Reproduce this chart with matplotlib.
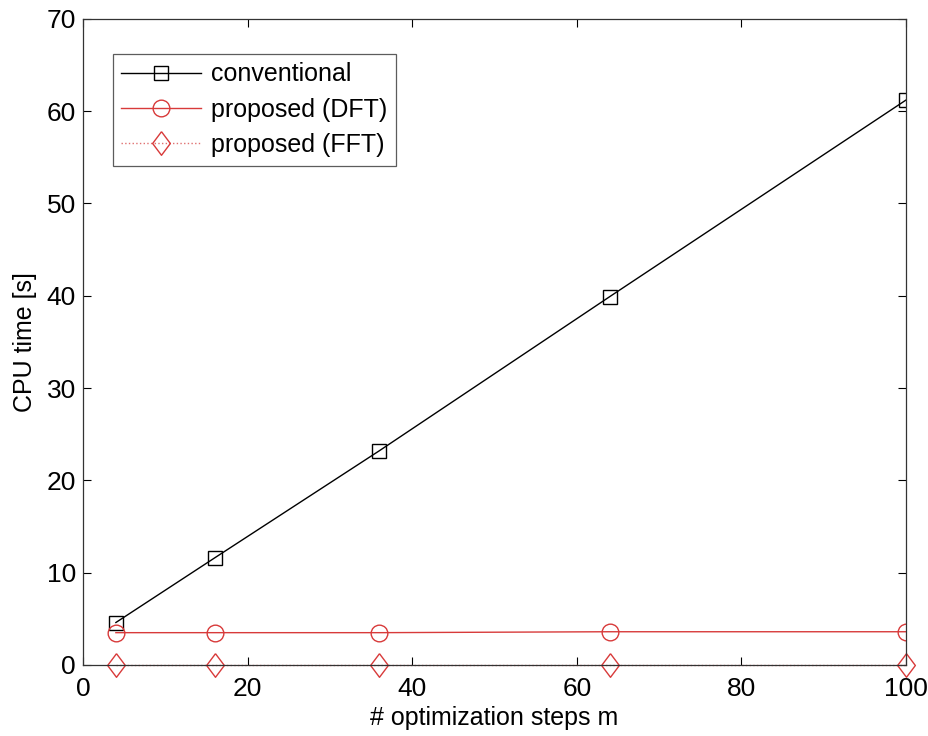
import matplotlib.pyplot as plt

plt.rcParams['font.family'] = ['Liberation Sans', 'DejaVu Sans']

steps = [4, 16, 36, 64, 100]
conventional = [4.6, 11.6, 23.2, 39.9, 61.2]
proposed_dft = [3.5, 3.5, 3.5, 3.6, 3.6]
proposed_fft = [0.05, 0.05, 0.05, 0.05, 0.05]

# rombo un poco mas ancho que el 'd' de matplotlib
rombo = [(0, 1), (0.75, 0), (0, -1), (-0.75, 0), (0, 1)]

fig = plt.figure(figsize=(9.29, 7.36), dpi=100)
ax = fig.add_axes([0.0893, 0.0965, 0.886, 0.878])

ax.plot(steps, conventional, color='black', lw=1.0, marker='s', ms=10,
        mfc='none', mec='black', mew=1.0, label='conventional')
ax.plot(steps, proposed_dft, color='#d83a3a', lw=1.0, marker='o', ms=12,
        mfc='none', mec='#d83a3a', mew=1.0, label='proposed (DFT)')
ax.plot(steps, proposed_fft, color='#e07070', lw=1.0, ls=':', marker=rombo, ms=17,
        mfc='none', mec='#d83a3a', mew=1.0, label='proposed (FFT)', clip_on=False)

ax.set_xlim(0, 100)
ax.set_ylim(0, 70)
ax.set_xticks(range(0, 101, 20))
ax.set_yticks(range(0, 71, 10))
ax.tick_params(direction='in', length=6, width=0.8, labelsize=19,
               top=True, right=True)
ax.tick_params(axis='x', pad=9)
ax.tick_params(axis='y', pad=5)
for s in ax.spines.values():
    s.set_linewidth(0.9)
    s.set_color('#333333')

ax.set_xlabel('# optimization steps m', fontsize=18, labelpad=3)
ax.set_ylabel('CPU time [s]', fontsize=18, labelpad=7)

leg = ax.legend(loc='upper left', bbox_to_anchor=(0.036, 0.946), fontsize=18,
                frameon=True, fancybox=False, edgecolor='#333333',
                handlelength=3.2, borderpad=0.35, labelspacing=0.45,
                handletextpad=0.4, borderaxespad=0)
leg.get_frame().set_linewidth(0.9)

plt.savefig('out.png', dpi=100)
